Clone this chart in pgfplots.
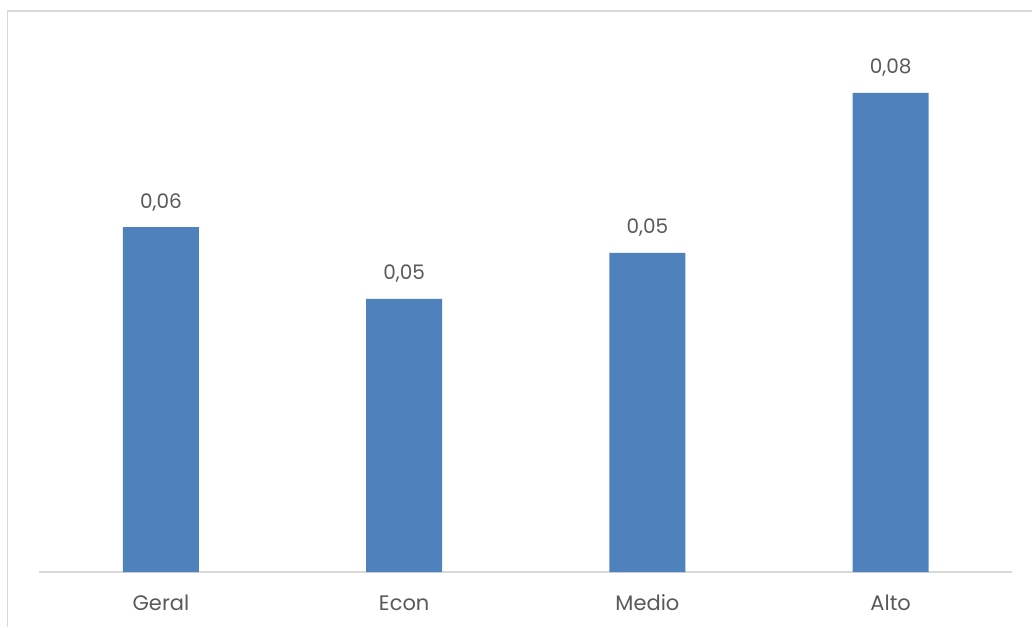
\documentclass[border=0pt]{standalone}
\usepackage{pgfplots}
\pgfplotsset{compat=1.18}
\usepackage{fontspec}
\setmainfont{Poppins}
\definecolor{barblue}{HTML}{4F81BD}
\definecolor{txtgray}{HTML}{595959}
\definecolor{linegray}{HTML}{D9D9D9}
\begin{document}
\begin{tikzpicture}[x=1pt,y=1pt]
\path[use as bounding box] (0,0) rectangle (1032,627);
\draw[linegray, line width=1.2pt] (7.5,0) -- (7.5,616) -- (1032,616);
\begin{axis}[
  at={(39.3pt,55pt)}, anchor=south west,
  scale only axis, width=973pt, height=539pt,
  xmin=-0.5, xmax=3.5, ymin=0, ymax=0.09,
  axis x line*=bottom, axis y line=none,
  x axis line style={linegray, line width=1.2pt, -},
  xtick={0,1,2,3}, xticklabels={Geral,Econ,Medio,Alto},
  major tick length=0pt,
  xticklabel style={font=\fontsize{21}{24}\selectfont, text=txtgray, anchor=base, yshift=-38pt},
  ybar, bar width=76pt,
  nodes near coords,
  nodes near coords style={font=\fontsize{20}{24}\selectfont, text=txtgray, anchor=base, inner sep=0pt, yshift=19pt,
    /pgf/number format/.cd, fixed, fixed zerofill, precision=2, use comma, assume math mode=true},
]
\addplot[fill=barblue, draw=none] coordinates {(0,0.0576) (1,0.0456) (2,0.0533) (3,0.0800)};
\end{axis}
\end{tikzpicture}
\end{document}
